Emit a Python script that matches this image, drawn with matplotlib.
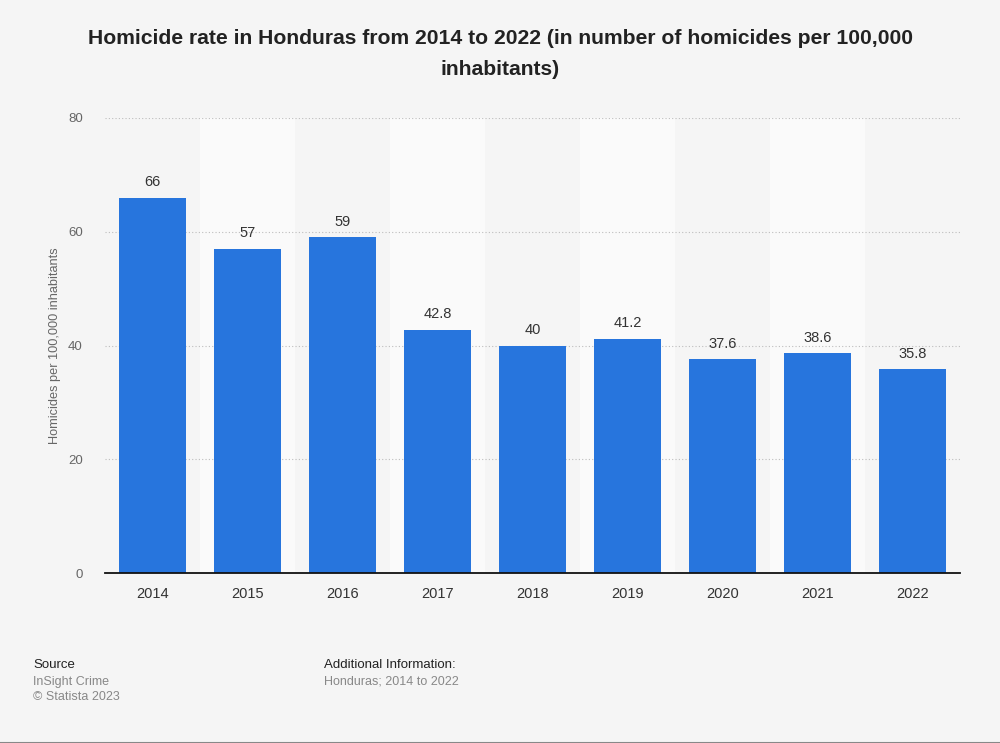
import matplotlib
matplotlib.use("Agg")
import matplotlib.pyplot as plt

years = ["2014", "2015", "2016", "2017", "2018", "2019", "2020", "2021", "2022"]
rates = [66, 57, 59, 42.8, 40, 41.2, 37.6, 38.6, 35.8]
labels = ["66", "57", "59", "42.8", "40", "41.2", "37.6", "38.6", "35.8"]
yticks = [0, 20, 40, 60, 80]

plt.rcParams['font.family'] = ['Liberation Sans', 'DejaVu Sans']

W, H = 1000, 743
fig = plt.figure(figsize=(W / 100, H / 100), dpi=100)
fig.patch.set_facecolor('#f5f5f5')

ax = fig.add_axes([105 / W, 1 - 573 / H, 855 / W, (573 - 118) / H])
ax.set_facecolor('#f5f5f5')

n = len(years)
for i in range(n):
    if i % 2 == 1:
        ax.axvspan(i - 0.5, i + 0.5, color='#fafafa', zorder=0, lw=0)

ax.set_xlim(-0.5, n - 0.5)
ax.set_ylim(0, 80)
ax.set_yticks(yticks)
ax.yaxis.grid(True, linestyle=(0, (1, 2)), color='#bdbdbd', linewidth=0.8, zorder=1)
ax.set_axisbelow(True)

bars = ax.bar(range(n), rates, width=0.7, color='#2775dd', zorder=3)
for i, (v, t) in enumerate(zip(rates, labels)):
    ax.annotate(t, (i, v), xytext=(0, 6), textcoords='offset points',
                ha='center', va='bottom', fontsize=10.5, color='#333333')

ax.set_xticks(range(n))
ax.set_xticklabels(years, fontsize=10.5, color='#333333')
ax.tick_params(axis='x', length=0, pad=10)
ax.tick_params(axis='y', length=0, pad=16, labelsize=9.5, labelcolor='#666666')
for s in ['top', 'right', 'left']:
    ax.spines[s].set_visible(False)
ax.spines['bottom'].set_color('#111111')
ax.spines['bottom'].set_linewidth(1.3)
ax.spines['bottom'].set_zorder(4)

ax.set_ylabel("Homicides per 100,000 inhabitants", fontsize=9.2, color='#666666')
ax.yaxis.set_label_coords((61 - 105) / 855, 0.5)

fig.text(0.5, 1 - 54 / H, "Homicide rate in Honduras from 2014 to 2022 (in number of homicides per 100,000\ninhabitants)",
         ha='center', va='center', fontsize=15.2, fontweight='bold', color='#222222', linespacing=1.8)

fig.text(33 / W, 1 - 665 / H, "Source", fontsize=9.5, color='#222222', va='center')
fig.text(33 / W, 1 - 682 / H, "InSight Crime", fontsize=9, color='#888888', va='center')
fig.text(33 / W, 1 - 697 / H, "© Statista 2023", fontsize=9, color='#888888', va='center')
fig.text(324 / W, 1 - 665 / H, "Additional Information:", fontsize=9.5, color='#222222', va='center')
fig.text(324 / W, 1 - 682 / H, "Honduras; 2014 to 2022", fontsize=9, color='#888888', va='center')

fig.add_artist(plt.Line2D([0, 1], [0.5 / H, 0.5 / H], color='#888888', lw=1.5, transform=fig.transFigure))

fig.savefig("out.png", dpi=100, facecolor=fig.get_facecolor())
